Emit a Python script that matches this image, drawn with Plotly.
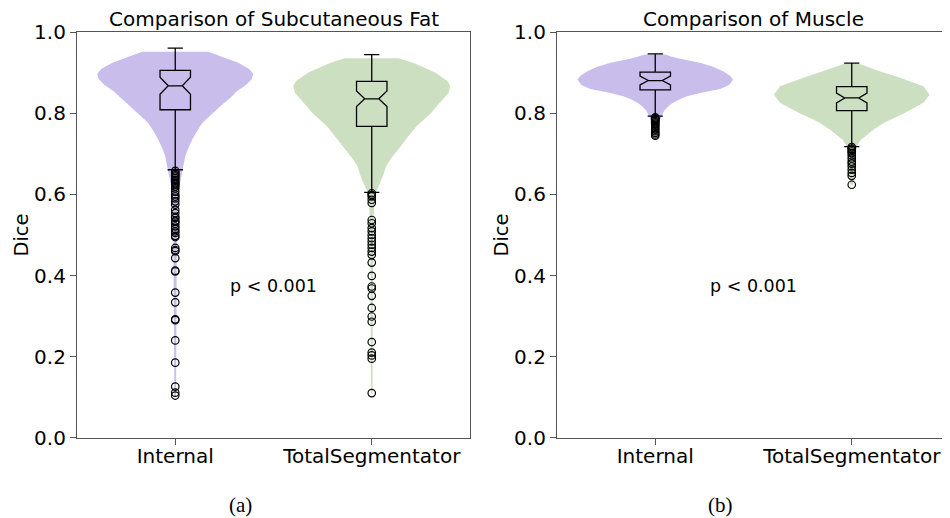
import plotly.graph_objects as go

# ---------------- data ----------------
categories = ["Internal", "TotalSegmentator"]
y_ticks = [0.0, 0.2, 0.4, 0.6, 0.8, 1.0]
y_tick_labels = ["0.0", "0.2", "0.4", "0.6", "0.8", "1.0"]
panel_titles = ["Comparison of Subcutaneous Fat", "Comparison of Muscle"]
panel_captions = ["(a)", "(b)"]
p_text = "p < 0.001"

# violin outlines: dice level and density half-width (category units)
fat_int_levels = [0.952, 0.94, 0.925, 0.91, 0.898, 0.885, 0.87, 0.855, 0.838, 0.82, 0.80, 0.776,
                  0.755, 0.735, 0.714, 0.694, 0.68, 0.661, 0.64, 0.62, 0.60, 0.56, 0.52, 0.48,
                  0.40, 0.30, 0.20, 0.101]
fat_int_width = [0.168, 0.235, 0.32, 0.375, 0.397, 0.39, 0.36, 0.315, 0.28, 0.235, 0.19, 0.137,
                 0.11, 0.086, 0.066, 0.051, 0.045, 0.038, 0.028, 0.02, 0.014, 0.011, 0.009, 0.008,
                 0.007, 0.006, 0.005, 0.004]
fat_ts_levels = [0.936, 0.924, 0.91, 0.90, 0.88, 0.867, 0.85, 0.835, 0.817, 0.80, 0.785, 0.768,
                 0.74, 0.718, 0.69, 0.669, 0.65, 0.636, 0.62, 0.605, 0.58, 0.55, 0.50, 0.40,
                 0.30, 0.20, 0.11]
fat_ts_width = [0.137, 0.213, 0.28, 0.325, 0.385, 0.40, 0.39, 0.365, 0.33, 0.30, 0.265, 0.228,
                0.18, 0.147, 0.10, 0.072, 0.06, 0.05, 0.035, 0.02, 0.013, 0.010, 0.008, 0.006,
                0.005, 0.004, 0.004]
mus_int_levels = [0.945, 0.94, 0.935, 0.925, 0.915, 0.904, 0.893, 0.883, 0.87, 0.86, 0.85, 0.842,
                  0.834, 0.825, 0.817, 0.807, 0.797, 0.784, 0.77, 0.755, 0.745]
mus_int_width = [0.051, 0.081, 0.127, 0.228, 0.294, 0.345, 0.381, 0.396, 0.376, 0.33, 0.228, 0.162,
                 0.122, 0.086, 0.066, 0.046, 0.036, 0.025, 0.02, 0.018, 0.015]
mus_ts_levels = [0.922, 0.915, 0.904, 0.891, 0.883, 0.867, 0.846, 0.826, 0.80, 0.784, 0.776, 0.76,
                 0.752, 0.735, 0.718, 0.70, 0.68, 0.66, 0.64, 0.624]
mus_ts_width = [0.041, 0.081, 0.142, 0.228, 0.274, 0.365, 0.396, 0.365, 0.264, 0.193, 0.162, 0.112,
                0.091, 0.046, 0.025, 0.02, 0.015, 0.013, 0.01, 0.008]

# box statistics  [Internal, TotalSegmentator]
fat_q1 = [0.809, 0.768]
fat_median = [0.868, 0.836]
fat_q3 = [0.906, 0.879]
fat_low = [0.661, 0.605]
fat_high = [0.961, 0.945]
fat_notch = [0.021, 0.019]
mus_q1 = [0.858, 0.807]
mus_median = [0.881, 0.838]
mus_q3 = [0.902, 0.866]
mus_low = [0.793, 0.718]
mus_high = [0.947, 0.924]
mus_notch = [0.011, 0.012]

# outliers
fat_int_out = [0.658, 0.653, 0.650, 0.647, 0.644, 0.640, 0.636, 0.632, 0.628, 0.625, 0.620, 0.615,
               0.607, 0.600, 0.595, 0.590, 0.583, 0.575, 0.562, 0.554, 0.545, 0.542, 0.535, 0.533,
               0.528, 0.521, 0.515, 0.509, 0.505, 0.498, 0.495, 0.468, 0.463, 0.460, 0.443, 0.412,
               0.410, 0.358, 0.334, 0.292, 0.290, 0.240, 0.185, 0.126, 0.111, 0.104]
fat_ts_out = [0.603, 0.599, 0.595, 0.587, 0.579, 0.537, 0.529, 0.517, 0.509, 0.500, 0.492, 0.484,
              0.476, 0.468, 0.459, 0.451, 0.432, 0.399, 0.373, 0.368, 0.350, 0.320, 0.299, 0.286,
              0.236, 0.210, 0.203, 0.195, 0.110]
mus_int_out = [0.790, 0.788, 0.786, 0.784, 0.781, 0.778, 0.775, 0.772, 0.768, 0.764, 0.760, 0.756,
               0.752, 0.748, 0.745]
mus_ts_out = [0.717, 0.713, 0.710, 0.706, 0.702, 0.696, 0.689, 0.681, 0.676, 0.669, 0.661, 0.653,
              0.646, 0.624]

# ---------------- styling ----------------
violin_colors = ["#c9bdec", "#cce0c1"]
FONT = "DejaVu Sans"
W, H = 950, 518
OFF = 8  # page offset of the plot div

fig = go.Figure()


def add_violin(pos, levels, widths, color, xa, ya):
    xs = [pos + w for w in widths] + [pos - w for w in reversed(widths)]
    ys = list(levels) + list(reversed(levels))
    fig.add_trace(go.Scatter(x=xs, y=ys, fill="toself", fillcolor=color, mode="lines",
                             line=dict(width=0, color=color), hoverinfo="skip",
                             showlegend=False, xaxis=xa, yaxis=ya))


def add_boxes(q1, med, q3, lo, hi, notch, xa, ya):
    fig.add_trace(go.Box(x=[0, 1], q1=q1, median=med, q3=q3, lowerfence=lo, upperfence=hi,
                         notchspan=notch, notched=True, notchwidth=0.27, width=0.155,
                         orientation="v", whiskerwidth=0.5, boxpoints=False,
                         fillcolor="rgba(0,0,0,0)", line=dict(color="black", width=1.3),
                         showlegend=False, xaxis=xa, yaxis=ya))


def add_outliers(pos, vals, xa, ya):
    fig.add_trace(go.Scatter(x=[pos] * len(vals), y=vals, mode="markers",
                             marker=dict(symbol="circle-open", size=7.5, color="black",
                                         line=dict(width=1.2)),
                             showlegend=False, hoverinfo="y", xaxis=xa, yaxis=ya))


# panel (a): violins on base axes, boxes + outliers on overlay axes (drawn above)
add_violin(0, fat_int_levels, fat_int_width, violin_colors[0], "x", "y")
add_violin(1, fat_ts_levels, fat_ts_width, violin_colors[1], "x", "y")
add_boxes(fat_q1, fat_median, fat_q3, fat_low, fat_high, fat_notch, "x3", "y3")
add_outliers(0, fat_int_out, "x3", "y3")
add_outliers(1, fat_ts_out, "x3", "y3")

# panel (b)
add_violin(0, mus_int_levels, mus_int_width, violin_colors[0], "x2", "y2")
add_violin(1, mus_ts_levels, mus_ts_width, violin_colors[1], "x2", "y2")
add_boxes(mus_q1, mus_median, mus_q3, mus_low, mus_high, mus_notch, "x4", "y4")
add_outliers(0, mus_int_out, "x4", "y4")
add_outliers(1, mus_ts_out, "x4", "y4")


def px_x(p):
    return (p - OFF) / W


def px_y(p):
    return 1 - (p - OFF) / H


ydom = [px_y(437.7), px_y(32.3)]

xaxis_common = dict(range=[-0.5, 1.5], tickvals=[0, 1], ticktext=categories, showgrid=False,
                    zeroline=False, showline=True, linecolor="#555555", linewidth=1.2, mirror=True,
                    ticks="outside", ticklen=6, tickcolor="#555555", automargin=False,
                    ticklabelstandoff=-6,
                    tickfont=dict(family=FONT, size=20, color="black"))
yaxis_common = dict(range=[0, 1], tickvals=y_ticks, ticktext=y_tick_labels, showgrid=False,
                    zeroline=False, showline=True, linecolor="#555555", linewidth=1.2, mirror=True,
                    ticks="outside", ticklen=6, tickcolor="#555555", domain=ydom, automargin=False,
                    tickfont=dict(family=FONT, size=20, color="black"),
                    title=dict(text="Dice", font=dict(family=FONT, size=19.5, color="black"),
                               standoff=0))
overlay_x = dict(range=[-0.5, 1.5], visible=False, showgrid=False, zeroline=False)
overlay_y = dict(range=[0, 1], visible=False, showgrid=False, zeroline=False)

fig.update_layout(
    width=W, height=H, margin=dict(l=0, r=0, t=0, b=0, autoexpand=False),
    plot_bgcolor="white", paper_bgcolor="white", showlegend=False,
    xaxis=dict(domain=[px_x(77), px_x(470)], anchor="y", **xaxis_common),
    yaxis=dict(anchor="x", **yaxis_common),
    xaxis2=dict(domain=[px_x(557), px_x(950)], anchor="y2", **xaxis_common),
    yaxis2=dict(anchor="x2", **yaxis_common),
    xaxis3=dict(overlaying="x", anchor="y3", **overlay_x),
    yaxis3=dict(overlaying="y", anchor="x3", **overlay_y),
    xaxis4=dict(overlaying="x2", anchor="y4", **overlay_x),
    yaxis4=dict(overlaying="y2", anchor="x4", **overlay_y),
)

annotations = [
    dict(text=panel_titles[0], x=px_x(273.5), y=px_y(19)),
    dict(text=panel_titles[1], x=px_x(753), y=px_y(19)),
    dict(text=panel_captions[0], x=px_x(240), y=px_y(505)),
    dict(text=panel_captions[1], x=px_x(720), y=px_y(505)),
]
for i, a in enumerate(annotations):
    a.update(xref="paper", yref="paper", showarrow=False, xanchor="center", yanchor="middle")
    if i < 2:
        a["font"] = dict(family=FONT, size=20, color="black")
    else:
        a["font"] = dict(family="Liberation Serif", size=21, color="black")
annotations += [
    dict(text=p_text, x=0.5, y=0.375, xref="x", yref="y", showarrow=False,
         xanchor="center", yanchor="middle", font=dict(family=FONT, size=17.5, color="black")),
    dict(text=p_text, x=0.5, y=0.375, xref="x2", yref="y2", showarrow=False,
         xanchor="center", yanchor="middle", font=dict(family=FONT, size=17.5, color="black")),
]
fig.update_layout(annotations=annotations)

fig.write_html("out.html")
